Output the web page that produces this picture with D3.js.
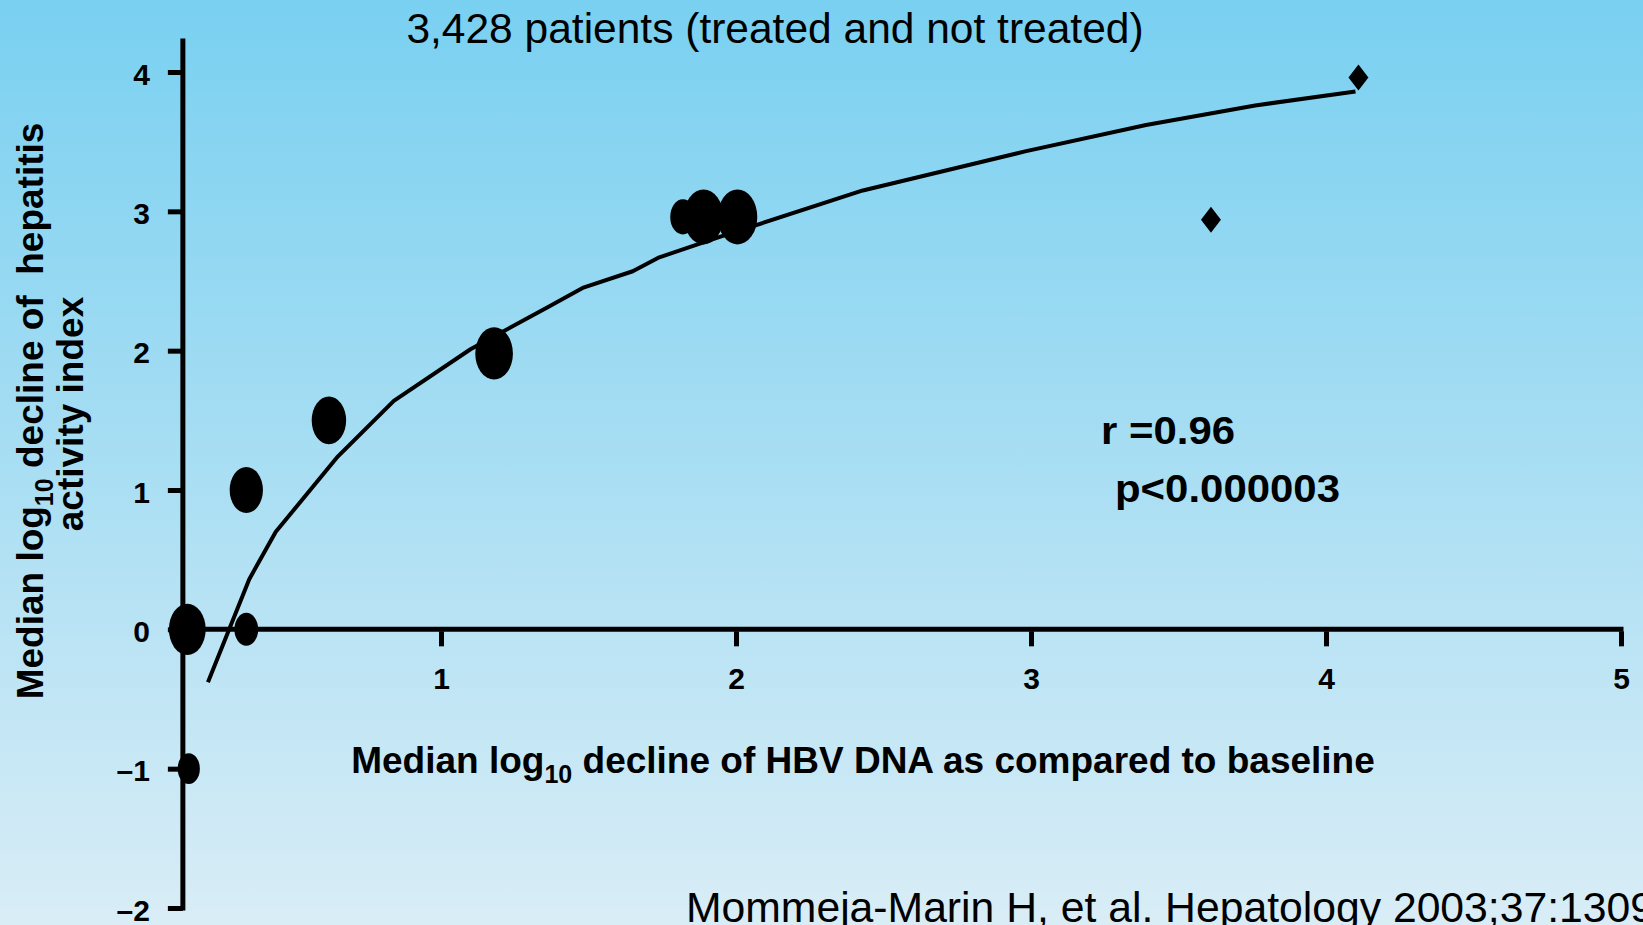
<!DOCTYPE html>
<html lang="en">
<head>
<meta charset="UTF-8">
<title>HBV DNA vs hepatitis activity index</title>
<style>
body { margin: 0; }
svg { display: block; font-family: "Liberation Sans", Arial, sans-serif; }
.axis .domain { display: none; }
.axis line { stroke: #000; stroke-width: 5; }
.axis text { font-size: 30px; font-weight: bold; fill: #000; }
</style>
</head>
<body>
<svg width="1643" height="925"></svg>
<script src="https://d3js.org/d3.v7.min.js"></script>
<script>

// study points (median log10 decline)
var dotX = [0.14, 0.34, 0.145, 0.34, 0.62, 1.18, 1.82, 1.89, 2.005];
var dotY = [0, 0, -1, 1.0, 1.5, 1.98, 2.96, 2.96, 2.96];
var dotWeight = [0.93, 0.6, 0.56, 0.84, 0.87, 0.95, 0.64, 1, 1];

var diamondX = [3.61, 4.11];
var diamondY = [2.94, 3.96];

// fitted curve
var fitX = [0.21, 0.35, 0.44, 0.65, 0.84, 1.1, 1.36, 1.48, 1.65, 1.74, 1.95, 2.43, 2.98, 3.39, 3.76, 4.1];
var fitY = [-0.38, 0.36, 0.70, 1.24, 1.64, 2.01, 2.31, 2.45, 2.57, 2.67, 2.82, 3.15, 3.43, 3.62, 3.76, 3.86];

var xTicks = [1, 2, 3, 4, 5];
var xTickLabels = ["1", "2", "3", "4", "5"];
var yTicks = [-2, -1, 0, 1, 2, 3, 4];
var yTickLabels = ["\u20132", "\u20131", "0", "1", "2", "3", "4"];

var svg = d3.select("svg"),
    W = +svg.attr("width"),
    H = +svg.attr("height");

var x = d3.scaleLinear().domain([0, 5]).range([146, 1621]);
var y = d3.scaleLinear().domain([-2, 4]).range([908, 72]);
var ry = d3.scaleLinear().domain([0, 1]).range([0, 27.5]);
var yAxisAt = 0.125;

// background
var grad = svg.append("defs").append("linearGradient")
    .attr("id", "bg").attr("x1", 0).attr("y1", 0).attr("x2", 0).attr("y2", 1);
grad.append("stop").attr("offset", "0%").attr("stop-color", "#79d0f1");
grad.append("stop").attr("offset", "50%").attr("stop-color", "#a8def3");
grad.append("stop").attr("offset", "100%").attr("stop-color", "#d9edf6");
svg.append("rect").attr("width", W).attr("height", H).attr("fill", "url(#bg)");

// axes lines
svg.append("line")
    .attr("x1", x(yAxisAt)).attr("x2", x(5) + 2.5)
    .attr("y1", y(0)).attr("y2", y(0))
    .attr("stroke", "#000").attr("stroke-width", 5);

svg.append("line")
    .attr("x1", x(yAxisAt)).attr("x2", x(yAxisAt))
    .attr("y1", y(4.24)).attr("y2", y(-2) + 2.5)
    .attr("stroke", "#000").attr("stroke-width", 5);

svg.append("g")
    .attr("class", "axis")
    .attr("transform", "translate(0," + y(0) + ")")
    .call(d3.axisBottom(x).tickValues(xTicks).tickSize(17).tickPadding(21)
      .tickFormat(function(d, i) { return xTickLabels[i]; }))
    .selectAll(".tick line").attr("y1", 2);

svg.append("g")
    .attr("class", "axis")
    .attr("transform", "translate(" + x(yAxisAt) + ",0)")
    .call(d3.axisLeft(y).tickValues(yTicks).tickSize(15).tickPadding(18)
      .tickFormat(function(d, i) { return yTickLabels[i]; }))
    .selectAll("text").attr("dy", "0.4em");

// fitted curve
var line = d3.line()
    .x(function(d) { return x(d[0]); })
    .y(function(d) { return y(d[1]); });

svg.append("path")
    .datum(fitX.map(function(v, i) { return [v, fitY[i]]; }))
    .attr("fill", "none")
    .attr("stroke", "#000")
    .attr("stroke-width", 4)
    .attr("stroke-linejoin", "round")
    .attr("d", line);

// study ellipses
svg.append("g").selectAll("ellipse")
    .data(dotX.map(function(v, i) { return {x: v, y: dotY[i], w: dotWeight[i]}; }))
    .enter().append("ellipse")
      .attr("cx", function(d) { return x(d.x); })
      .attr("cy", function(d) { return y(d.y); })
      .attr("rx", function(d) { return ry(d.w) * 0.72; })
      .attr("ry", function(d) { return ry(d.w); })
      .attr("fill", "#000");

// diamonds
svg.append("g").selectAll("path")
    .data(diamondX.map(function(v, i) { return {x: v, y: diamondY[i]}; }))
    .enter().append("path")
      .attr("d", d3.symbol().type(d3.symbolDiamond).size(195))
      .attr("transform", function(d) { return "translate(" + x(d.x) + "," + y(d.y) + ") scale(1.33,1)"; })
      .attr("fill", "#000");

// titles
svg.append("text")
    .attr("x", 775).attr("y", 43)
    .attr("text-anchor", "middle")
    .attr("font-size", 42.5)
    .text("3,428 patients (treated and not treated)");

var xt = svg.append("text")
    .attr("x", 863).attr("y", 773)
    .attr("text-anchor", "middle")
    .attr("font-size", 37)
    .attr("font-weight", "bold");
xt.append("tspan").text("Median log");
xt.append("tspan").attr("font-size", 25).attr("dy", 10).text("10");
xt.append("tspan").attr("dy", -10).text(" decline of HBV DNA as compared to baseline");

var yt = svg.append("text")
    .attr("transform", "translate(43,411) rotate(-90)")
    .attr("text-anchor", "middle")
    .attr("font-size", 37)
    .attr("font-weight", "bold")
    .attr("xml:space", "preserve");
yt.append("tspan").text("Median log");
yt.append("tspan").attr("font-size", 25).attr("dy", 10).text("10");
yt.append("tspan").attr("dy", -10).text(" decline of  hepatitis");

svg.append("text")
    .attr("transform", "translate(83,414) rotate(-90)")
    .attr("text-anchor", "middle")
    .attr("font-size", 37)
    .attr("font-weight", "bold")
    .text("activity index");

svg.append("text")
    .attr("x", 1101).attr("y", 444)
    .attr("font-size", 39)
    .attr("font-weight", "bold")
    .attr("textLength", 134)
    .attr("lengthAdjust", "spacingAndGlyphs")
    .text("r =0.96");

svg.append("text")
    .attr("x", 1115).attr("y", 502)
    .attr("font-size", 39)
    .attr("font-weight", "bold")
    .attr("textLength", 225)
    .attr("lengthAdjust", "spacingAndGlyphs")
    .text("p<0.000003");

svg.append("text")
    .attr("x", 686).attr("y", 922)
    .attr("font-size", 42)
    .attr("textLength", 968)
    .attr("lengthAdjust", "spacingAndGlyphs")
    .text("Mommeja-Marin H, et al. Hepatology 2003;37:1309");

</script>
</body>
</html>
